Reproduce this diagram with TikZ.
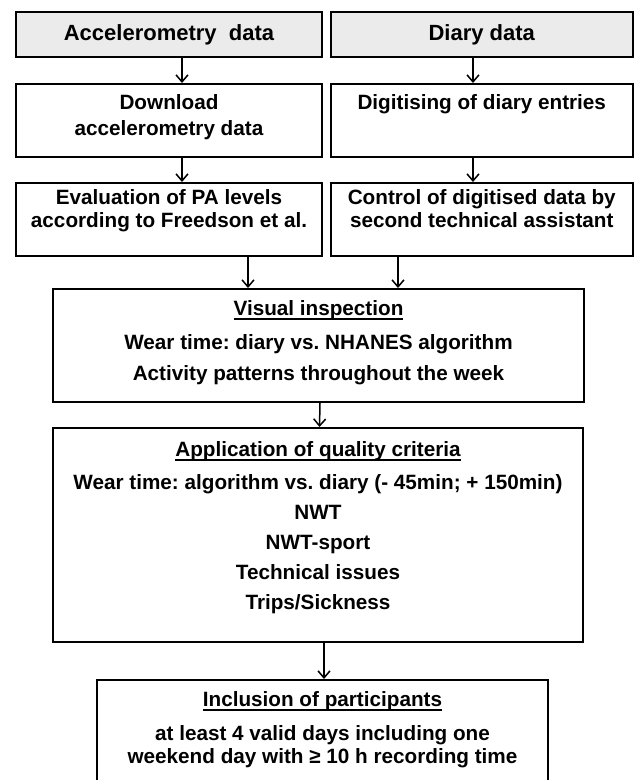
\documentclass[tikz,border=0pt]{standalone}
\usepackage{fontspec}
\setmainfont{Liberation Sans}
\usetikzlibrary{arrows.meta}
\frenchspacing

\definecolor{headgray}{RGB}{235,235,235}
\newcommand{\bodyfont}[1]{\fontsize{20.7}{#1}\selectfont\bfseries}
\newcommand{\ulined}[1]{\setbox0=\hbox{#1}\rlap{\rule[-4pt]{\wd0}{1.5pt}}\box0}

\tikzset{
    box/.style={draw=black, line width=2pt, rectangle, inner sep=0pt},
    head/.style={box, fill=headgray, font=\fontsize{22}{26}\selectfont\bfseries},
    txt/.style={align=center, inner sep=0pt, anchor=north},
    arr/.style={line width=1.5pt, -{Straight Barb[length=7pt,width=12pt]}}
}

\begin{document}
\begin{tikzpicture}[x=1pt,y=-1pt]
    % Page frame
    \useasboundingbox (0,0) rectangle (634,780);
    \clip (0,0) rectangle (634,780);

    % Draw the two sources
    \node[head, minimum width=306pt, minimum height=45pt] (acc) at (169,34.5) {Accelerometry~~data};
    \node[head, minimum width=301.5pt, minimum height=45pt] (dia) at (481.75,34.5) {Diary data};

    % Draw the preparation steps
    \node[box, minimum width=306pt, minimum height=73pt] (dl) at (169,120.5) {};
    \node[txt, font=\bodyfont{26}] (dltxt) at (169,91.3) {\strut Download\\accelerometry data\strut};
    \node[box, minimum width=301.5pt, minimum height=73pt] (dig) at (481.75,120.5) {};
    \node[txt, font=\bodyfont{26}] (digtxt) at (481.75,91.3) {\strut Digitising of diary entries\strut};

    \node[box, minimum width=306pt, minimum height=73pt] (eva) at (169,219.5) {};
    \node[txt, font=\bodyfont{23}] (evatxt) at (169,188.4) {\strut Evaluation of PA levels\\according to Freedson et al.\strut};
    \node[box, minimum width=301.5pt, minimum height=73pt] (ctl) at (481.75,219.5) {};
    \node[txt, font=\bodyfont{23}] (ctltxt) at (481.75,188.4) {\strut Control of digitised data by\\second technical assistant\strut};

    % Draw the checking steps
    \node[box, minimum width=531pt, minimum height=113pt] (vis) at (318.5,345.5) {};
    \node[txt, font=\bodyfont{31}] (vistxt) at (318.5,293.8) {\strut\ulined{Visual inspection}\\[3pt]Wear time: diary vs. NHANES algorithm\\Activity patterns throughout the week\strut};

    \node[box, minimum width=530pt, minimum height=214pt] (qual) at (318,535) {};
    \node[txt, font=\bodyfont{30}] (qualtxt) at (318,435.5) {\strut\ulined{Application of quality criteria}\\[3pt]Wear time: algorithm vs. diary (- 45min; + 150min)\\NWT\\NWT-sport\\Technical issues\\Trips/Sickness\strut};

    \node[box, minimum width=451pt, minimum height=120pt] (inc) at (322.5,740) {};
    \node[txt, font=\bodyfont{23}] (inctxt) at (322.5,690.4) {\strut\ulined{Inclusion of participants}\\[11pt]at least 4 valid days including one\\weekend day with ≥ 10 h recording time\strut};

    % Draw the arrows
    \draw[arr] ([xshift=13pt]acc.south) -- ([xshift=13pt]dl.north);
    \draw[arr] ([xshift=-8.75pt]dia.south) -- ([xshift=-8.75pt]dig.north);
    \draw[arr] ([xshift=13pt]dl.south) -- ([xshift=13pt]eva.north);
    \draw[arr] ([xshift=-8.75pt]dig.south) -- ([xshift=-8.75pt]ctl.north);
    \draw[arr] ([xshift=79pt]eva.south) -- ([xshift=79pt]eva.south |- vis.north);
    \draw[arr] ([xshift=-83.75pt]ctl.south) -- ([xshift=-83.75pt]ctl.south |- vis.north);
    \draw[arr] ([xshift=1.5pt]vis.south) -- ([xshift=1.5pt]qual.north);
    \draw[arr] ([xshift=6pt]qual.south) -- ([xshift=6pt]qual.south |- inc.north);
\end{tikzpicture}
\end{document}
